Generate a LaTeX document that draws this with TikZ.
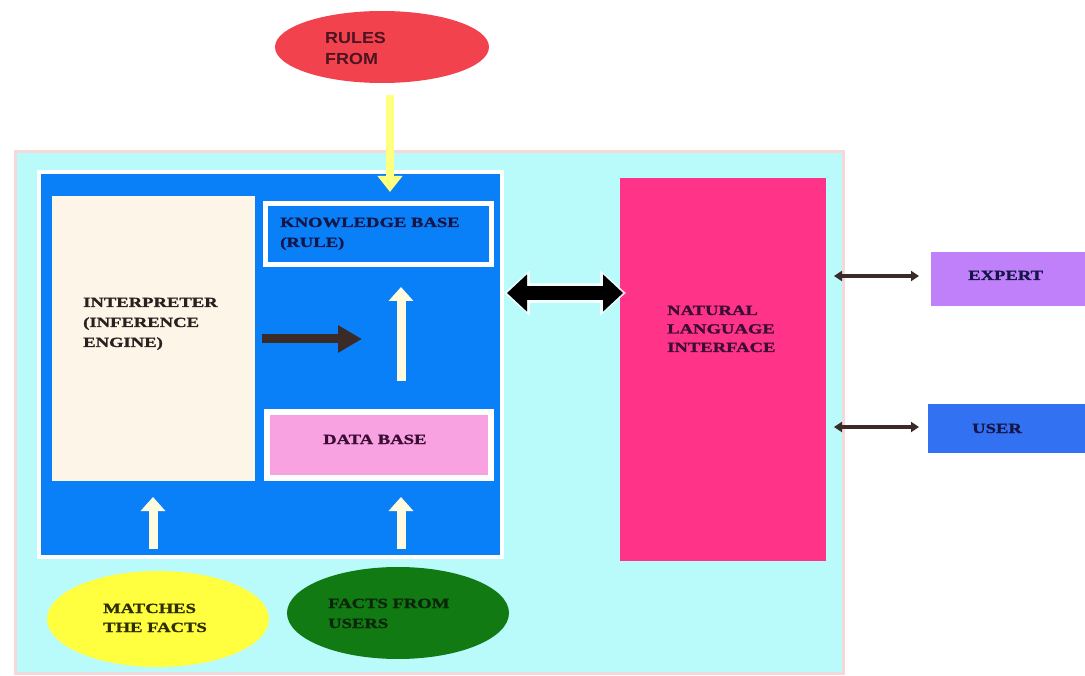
\documentclass[tikz,border=0pt]{standalone}
\usepackage{fontspec}
\usetikzlibrary{arrows.meta,shapes.geometric}
\newfontfamily\lblfont[FakeStretch=1.33,FakeBold=1.2]{Liberation Serif}
\newfontfamily\rulesfont[FakeStretch=1.12]{Liberation Sans}
\definecolor{panelcyan}{HTML}{B9FBFB}
\definecolor{panelrim}{HTML}{F6D8D8}
\definecolor{bluebox}{HTML}{0A80F8}
\definecolor{cream}{HTML}{FDF5E8}
\definecolor{dbpink}{HTML}{F8A2E2}
\definecolor{nlipink}{HTML}{FF3388}
\definecolor{expertc}{HTML}{C080FA}
\definecolor{userc}{HTML}{3272F2}
\definecolor{rulesred}{HTML}{F2424E}
\definecolor{matchy}{HTML}{FFFF40}
\definecolor{factsg}{HTML}{127A12}
\definecolor{arrowcream}{HTML}{FFFBE0}
\definecolor{arrowyel}{HTML}{FFFF80}
\definecolor{arrowbrown}{HTML}{3A2A28}
\definecolor{txtdark}{HTML}{2A2020}
\definecolor{txtnavy}{HTML}{15154A}
\definecolor{txtplum}{HTML}{3A0E34}
\definecolor{txtolive}{HTML}{2E2E00}
\definecolor{txtgreen}{HTML}{0A250A}
\definecolor{txtrules}{HTML}{4A1420}
\tikzset{
  box/.style={draw=none,inner sep=0pt,anchor=north west},
  txt/.style={anchor=base west,inner sep=0pt,font=\lblfont\bfseries\fontsize{14}{20}\selectfont,align=left},
  oval/.style={ellipse,draw=none,inner sep=0pt},
  creamarrow/.style={draw=arrowcream,line width=9pt,-{Triangle[width=24pt,length=14pt]}},
  smallarrow/.style={draw=arrowbrown,line width=4pt,{Triangle[width=10pt,length=8pt]}-{Triangle[width=10pt,length=8pt]}}
}
\begin{document}
\begin{tikzpicture}[x=1pt,y=-1pt]
\useasboundingbox (0,0) rectangle (1085,676);
\fill[white] (0,0) rectangle (1085,676);
% outer panel
\node[box,fill=panelcyan,draw=panelrim,line width=3pt,minimum width=828pt,minimum height=522pt] (panel) at (14,150) {};
% blue frame
\node[box,fill=bluebox,draw=white,line width=4pt,minimum width=463pt,minimum height=385pt] (core) at (37,170) {};
% interpreter
\node[box,fill=cream,minimum width=203pt,minimum height=285pt] (interp) at (52,196) {};
% knowledge base
\node[box,fill=bluebox,draw=white,line width=5pt,minimum width=226pt,minimum height=61pt] (kb) at (263,201) {};
% data base
\node[box,fill=dbpink,draw=white,line width=6pt,minimum width=224pt,minimum height=66pt] (db) at (264,409) {};
% natural language interface
\node[box,fill=nlipink,minimum width=206pt,minimum height=383pt] (nli) at (620,178) {};
% expert, user
\node[box,fill=expertc,minimum width=160pt,minimum height=54pt] (expert) at (931,252) {};
\node[box,fill=userc,minimum width=160pt,minimum height=49pt] (user) at (928,404) {};
% ovals
\node[oval,fill=rulesred,minimum width=214pt,minimum height=72pt] (rules) at (382,47) {};
\node[oval,fill=matchy,minimum width=222pt,minimum height=96pt] (matches) at (158,619) {};
\node[oval,fill=factsg,minimum width=222pt,minimum height=92pt] (facts) at (398,613) {};

% texts (base = baseline of last line)
\node[anchor=base west,inner sep=0pt,font=\rulesfont\bfseries\fontsize{16}{21}\selectfont,text=txtrules,align=left] (rulestxt) at (325,65) {RULES\\FROM};
\node[txt,text=txtnavy] (kbtxt) at (280,247) {KNOWLEDGE BASE\\(RULE)};
\node[txt,text=txtdark] (interptxt) at (83,347) {INTERPRETER\\(INFERENCE\\ENGINE)};
\node[txt,text=txtplum] (dbtxt) at (323,444) {DATA BASE};
\node[txt,text=txtplum,font=\lblfont\bfseries\fontsize{14}{18.5}\selectfont] (nlitxt) at (667,352) {NATURAL\\LANGUAGE\\INTERFACE};
\node[txt,text=txtnavy] (experttxt) at (968,280) {EXPERT};
\node[txt,text=txtnavy] (usertxt) at (972,433) {USER};
\node[txt,text=txtolive,font=\lblfont\bfseries\fontsize{14}{19}\selectfont] (matchtxt) at (103,632) {MATCHES\\THE FACTS};
\node[txt,text=txtgreen,font=\lblfont\bfseries\fontsize{14}{20}\selectfont] (factstxt) at (328,628) {FACTS FROM\\USERS};

% connector coordinates
\coordinate (rulesout) at (390,95);
\coordinate (kbin) at (390,192);
\coordinate (dbtop) at (401,381);
\coordinate (kbbot) at (401,287);
\coordinate (interpout) at (262,339);
\coordinate (midpt) at (362,339);
\coordinate (leftbot) at (153,549);
\coordinate (leftup) at (153,497);
\coordinate (rightbot) at (401,549);
\coordinate (rightup) at (401,497);
\coordinate (coreright) at (504,293);
\coordinate (nlileft) at (626,293);
\coordinate (nliex) at (834,276);
\coordinate (exin) at (919,276);
\coordinate (nliu) at (834,427);
\coordinate (uin) at (919,427);

% arrows
\draw[draw=arrowyel,line width=8pt,-{Triangle[width=24pt,length=16pt]}] (rulesout) -- (kbin);
\draw[creamarrow] (dbtop) -- (kbbot);
\draw[creamarrow] (leftbot) -- (leftup);
\draw[creamarrow] (rightbot) -- (rightup);
\draw[draw=arrowbrown,line width=9pt,-{Triangle[width=26pt,length=24pt]}] (interpout) -- (midpt);
\draw[draw=white,line width=20pt,{Triangle[width=44pt,length=26pt]}-{Triangle[width=44pt,length=26pt]},opacity=0.8] (coreright) -- (nlileft);
\draw[draw=black,line width=14pt,{Triangle[width=36pt,length=20pt]}-{Triangle[width=36pt,length=20pt]},shorten <=3pt,shorten >=3pt] (coreright) -- (nlileft);
\draw[smallarrow] (nliex) -- (exin);
\draw[smallarrow] (nliu) -- (uin);
\end{tikzpicture}
\end{document}
